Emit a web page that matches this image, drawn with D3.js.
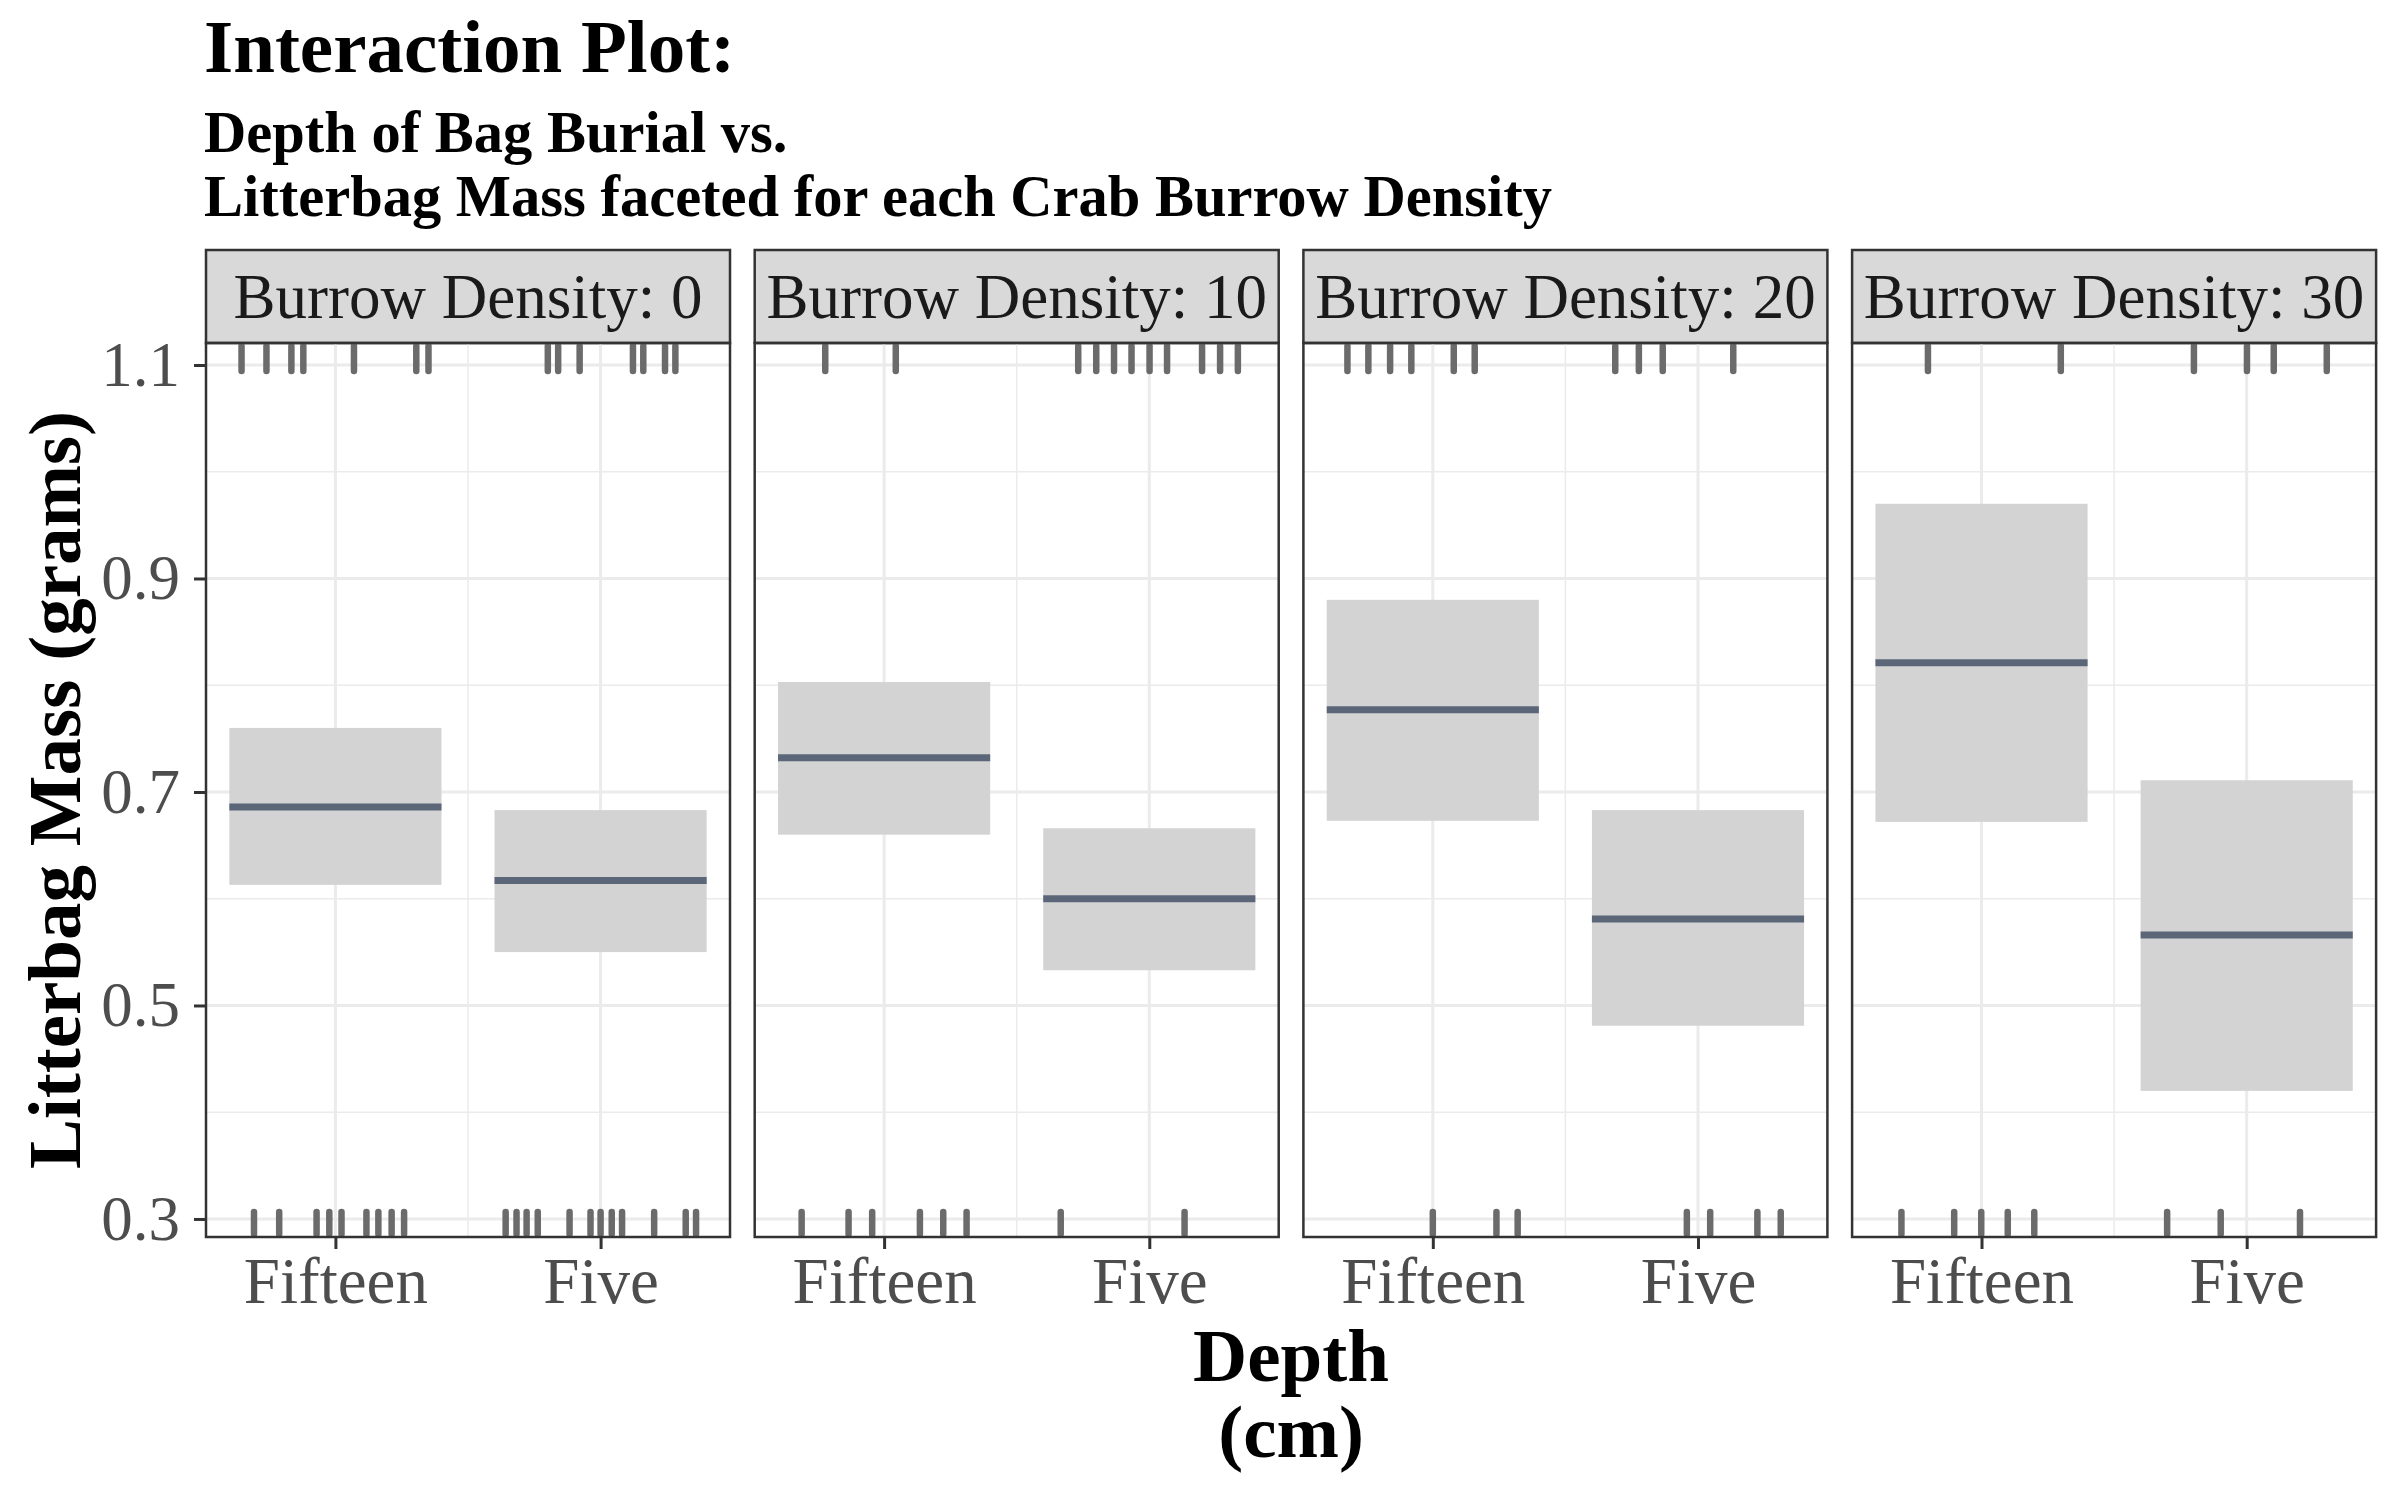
<!DOCTYPE html>
<html lang="en">
<head>
<meta charset="utf-8">
<script src="https://cdn.jsdelivr.net/npm/d3@7"></script>
<style>
  body { margin: 0; background: #fff; }
  text { font-family: "Liberation Serif", "Times New Roman", serif; }
</style>
</head>
<body>
<svg id="chart" width="2400" height="1500"></svg>
<script>
// burrow densities (one facet each) and depth levels
var densities = [0, 10, 20, 30];
var depths = ["Fifteen", "Five"];

// fitted litterbag mass and confidence band, [Fifteen, Five] per facet
var fitValues = [[0.686, 0.617], [0.732, 0.600], [0.777, 0.581], [0.821, 0.566]];
var lowerBand = [[0.613, 0.550], [0.660, 0.533], [0.673, 0.481], [0.672, 0.420]];
var upperBand = [[0.760, 0.683], [0.803, 0.666], [0.880, 0.683], [0.970, 0.711]];

// jittered x positions of residual rugs (top = positive, bottom = negative)
var rugTop = [
  [0.146, 0.240, 0.334, 0.379, 0.570, 0.805, 0.851, 1.301, 1.340, 1.421, 1.622, 1.661, 1.743, 1.782],
  [0.278, 0.544, 1.232, 1.300, 1.367, 1.433, 1.501, 1.567, 1.699, 1.767, 1.834],
  [0.178, 0.257, 0.339, 0.419, 0.579, 0.658, 1.188, 1.277, 1.367, 1.633],
  [0.298, 0.799, 1.301, 1.501, 1.602, 1.802]
];
var rugBottom = [
  [0.193, 0.288, 0.429, 0.477, 0.523, 0.617, 0.662, 0.712, 0.759, 1.142, 1.183, 1.221, 1.263, 1.383, 1.462, 1.500, 1.542, 1.581, 1.702, 1.821, 1.860],
  [0.189, 0.366, 0.455, 0.635, 0.723, 0.811, 1.166, 1.633],
  [0.500, 0.740, 0.820, 1.458, 1.546, 1.724, 1.812],
  [0.198, 0.397, 0.499, 0.599, 0.699, 1.200, 1.402, 1.701]
];

var yTicks = [0.3, 0.5, 0.7, 0.9, 1.1];
var yMinor = [0.4, 0.6, 0.8, 1.0];
var xCenters = [0.5, 1.5];
var boxHalf = 0.4;

var svg = d3.select("#chart");
svg.append("rect").attr("width", 2400).attr("height", 1500).attr("fill", "#fff");

var left0 = 206, panelTop = 343, pw = 524, ph = 894, gap = 24.7;
var stripH = 93;

var x = d3.scaleLinear().domain([0.012, 1.988]).range([0, pw]);
var y = d3.scaleLinear().domain([0.2831, 1.1206]).range([ph, 0]);

// titles
svg.append("text").attr("x", 204).attr("y", 72)
  .attr("font-size", 75).attr("font-weight", "bold").text("Interaction Plot:");
svg.append("text").attr("x", 204).attr("y", 152)
  .attr("font-size", 58.5).attr("font-weight", "bold").text("Depth of Bag Burial vs.");
svg.append("text").attr("x", 204).attr("y", 216)
  .attr("font-size", 58.5).attr("font-weight", "bold").text("Litterbag Mass faceted for each Crab Burrow Density");

densities.forEach(function(dens, i) {
  var g = svg.append("g")
    .attr("transform", "translate(" + (left0 + i * (pw + gap)) + "," + panelTop + ")");

  // strip
  g.append("rect").attr("x", 0).attr("y", -stripH).attr("width", pw).attr("height", stripH)
    .attr("fill", "#d9d9d9").attr("stroke", "#333").attr("stroke-width", 2.5);
  g.append("text").attr("x", pw / 2).attr("y", -stripH / 2 + 21)
    .attr("text-anchor", "middle").attr("font-size", 63).attr("fill", "#1a1a1a")
    .text("Burrow Density: " + dens);

  // grid
  g.selectAll(".ymin").data(yMinor).enter().append("line")
    .attr("x1", 0).attr("x2", pw).attr("y1", y).attr("y2", y)
    .attr("stroke", "#ebebeb").attr("stroke-width", 1.5);
  g.selectAll(".ymaj").data(yTicks).enter().append("line")
    .attr("x1", 0).attr("x2", pw).attr("y1", y).attr("y2", y)
    .attr("stroke", "#ebebeb").attr("stroke-width", 3);
  g.append("line").attr("x1", x(1)).attr("x2", x(1)).attr("y1", 0).attr("y2", ph)
    .attr("stroke", "#ebebeb").attr("stroke-width", 1.5);
  g.selectAll(".xmaj").data(xCenters).enter().append("line")
    .attr("x1", x).attr("x2", x).attr("y1", 0).attr("y2", ph)
    .attr("stroke", "#ebebeb").attr("stroke-width", 3);

  // bands and fitted lines
  depths.forEach(function(dep, j) {
    var c = xCenters[j];
    g.append("rect")
      .attr("x", x(c - boxHalf)).attr("width", x(c + boxHalf) - x(c - boxHalf))
      .attr("y", y(upperBand[i][j])).attr("height", y(lowerBand[i][j]) - y(upperBand[i][j]))
      .attr("fill", "#d3d3d3");
    g.append("line")
      .attr("x1", x(c - boxHalf)).attr("x2", x(c + boxHalf))
      .attr("y1", y(fitValues[i][j])).attr("y2", y(fitValues[i][j]))
      .attr("stroke", "#5b6779").attr("stroke-width", 7);
  });

  // rugs
  g.selectAll(".rugt").data(rugTop[i]).enter().append("line")
    .attr("x1", x).attr("x2", x).attr("y1", 3).attr("y2", 28)
    .attr("stroke", "#6b6b6b").attr("stroke-width", 6.5).attr("stroke-linecap", "round");
  g.selectAll(".rugb").data(rugBottom[i]).enter().append("line")
    .attr("x1", x).attr("x2", x).attr("y1", ph - 3).attr("y2", ph - 25)
    .attr("stroke", "#6b6b6b").attr("stroke-width", 6.5).attr("stroke-linecap", "round");

  // panel border
  g.append("rect").attr("width", pw).attr("height", ph)
    .attr("fill", "none").attr("stroke", "#333").attr("stroke-width", 2.5);

  // x axis
  var xa = g.append("g").attr("transform", "translate(0," + ph + ")")
    .call(d3.axisBottom(x).tickValues(xCenters)
      .tickFormat(function(d, k) { return depths[k]; })
      .tickSize(12).tickPadding(8));
  xa.select(".domain").remove();
  xa.selectAll("line").attr("stroke", "#333").attr("stroke-width", 3);
  xa.selectAll("text").attr("font-size", 65).attr("fill", "#4d4d4d")
    .attr("font-family", "Liberation Serif, Times New Roman, serif");

  if (i === 0) {
    var ya = g.append("g")
      .call(d3.axisLeft(y).tickValues(yTicks).tickFormat(d3.format(".1f"))
        .tickSize(12).tickPadding(14));
    ya.select(".domain").remove();
    ya.selectAll("line").attr("stroke", "#333").attr("stroke-width", 3);
    ya.selectAll("text").attr("font-size", 63).attr("fill", "#4d4d4d")
      .attr("font-family", "Liberation Serif, Times New Roman, serif");
  }
});

// axis titles
var plotMid = left0 + (4 * pw + 3 * gap) / 2;
svg.append("text").attr("x", plotMid).attr("y", 1381).attr("text-anchor", "middle")
  .attr("font-size", 75).attr("font-weight", "bold").text("Depth");
svg.append("text").attr("x", plotMid).attr("y", 1457).attr("text-anchor", "middle")
  .attr("font-size", 75).attr("font-weight", "bold").text("(cm)");
svg.append("text")
  .attr("transform", "translate(80," + (panelTop + ph / 2) + ") rotate(-90)")
  .attr("text-anchor", "middle").attr("font-size", 75).attr("font-weight", "bold")
  .text("Litterbag Mass (grams)");
</script>
</body>
</html>
